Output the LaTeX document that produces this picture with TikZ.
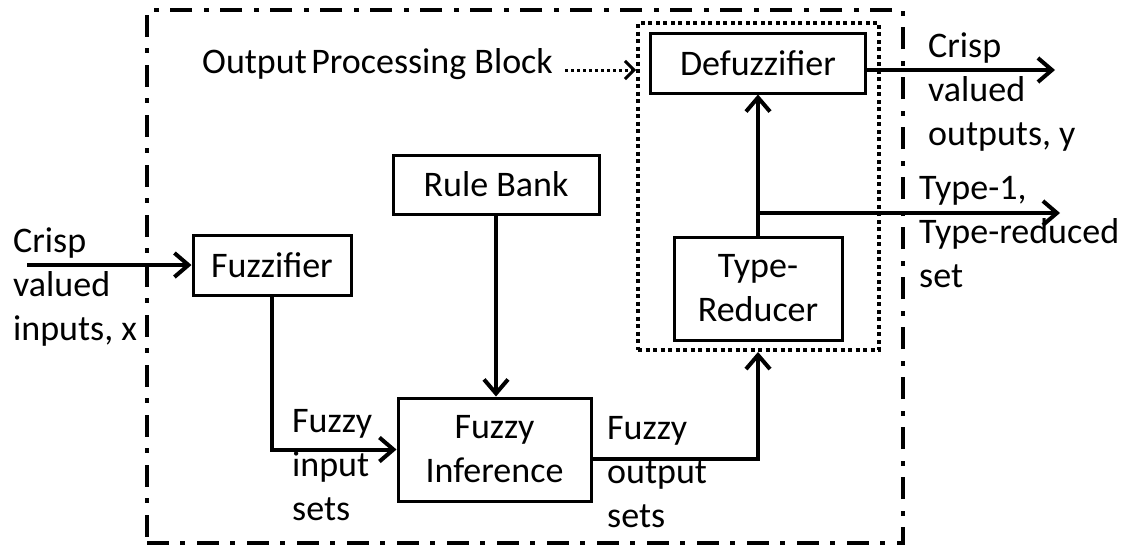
\documentclass[tikz,border=0pt]{standalone}
\usepackage{fontspec}
\setmainfont{Carlito}
\usetikzlibrary{arrows.meta}
\begin{document}
\begin{tikzpicture}[x=1pt,y=-1pt,
  font=\fontsize{36}{44}\selectfont,
  blk/.style={draw, line width=3pt, inner sep=0pt, align=center},
  lbl/.style={inner sep=0pt, align=left, anchor=base west},
  arr/.style={line width=4pt, -{Straight Barb[length=14pt,width=24pt]}},
  dotarr/.style={line width=3pt, dash pattern=on 3pt off 3pt, -{Straight Barb[length=9pt,width=18pt]}},
  outerbox/.style={draw, line width=4.5pt, dash pattern=on 22pt off 11pt on 5pt off 12pt, inner sep=0pt},
  dotbox/.style={draw, line width=4pt, dash pattern=on 4pt off 3.5pt, inner sep=0pt}
]
\useasboundingbox[fill=white] (0,0) rectangle (1129,550);

% enclosing boxes
\node[outerbox, minimum width=756pt, minimum height=533pt] (OB) at (525,276.5) {};
\node[dotbox, minimum width=241pt, minimum height=327pt] (PB) at (758.5,186.5) {};

% blocks
\node[blk, minimum width=215pt, minimum height=60pt] (DF) at (758,63) {Defuzzifier};
\node[blk, minimum width=158pt, minimum height=60pt] (FZ) at (272,265) {Fuzzifier};
\node[blk, minimum width=206pt, minimum height=59pt] (RB) at (496,184.5) {Rule Bank};
\node[blk, minimum width=168pt, minimum height=103pt] (TR) at (758,288.5) {Type-\\Reducer};
\node[blk, minimum width=193pt, minimum height=103pt] (FI) at (494.5,449.5) {Fuzzy\\Inference};

% labels (anchored at the baseline of the last line)
\node[lbl] (OPB) at (202,73) {Output\hspace{4.5pt}Processing Block};
\node[lbl] (tin) at (13,340) {Crisp\\valued\\inputs, x};
\node[lbl] (tout) at (928,145) {Crisp\\valued\\outputs, y};
\node[lbl] (ttr) at (919,287) {Type-1,\\Type-reduced\\set};
\node[lbl] (tfi) at (292,520) {Fuzzy\\input\\sets};
\node[lbl] (tfo) at (607,527) {Fuzzy\\output\\sets};

% free ends
\coordinate (inS) at (27,265);
\coordinate (outC) at (1055,70);
\coordinate (brE) at (1060,213);
\coordinate (opy) at (0,70);

% connectors
\draw[arr] (inS) -- (FZ.west);
\draw[arr] (FZ.south) |- (FI.west);
\draw[arr] (RB.south) -- (RB.south |- FI.north);
\draw[arr] ([yshift=-9.5pt]FI.east) -| (TR.south |- PB.south);
\draw[arr] (TR.north) -- (DF.south);
\draw[arr] (TR.north |- brE) -- (brE);
\draw[arr] (DF.east |- outC) -- (outC);
\draw[dotarr] ([xshift=12pt]OPB.east |- opy) -- (PB.west |- opy);
\end{tikzpicture}
\end{document}
